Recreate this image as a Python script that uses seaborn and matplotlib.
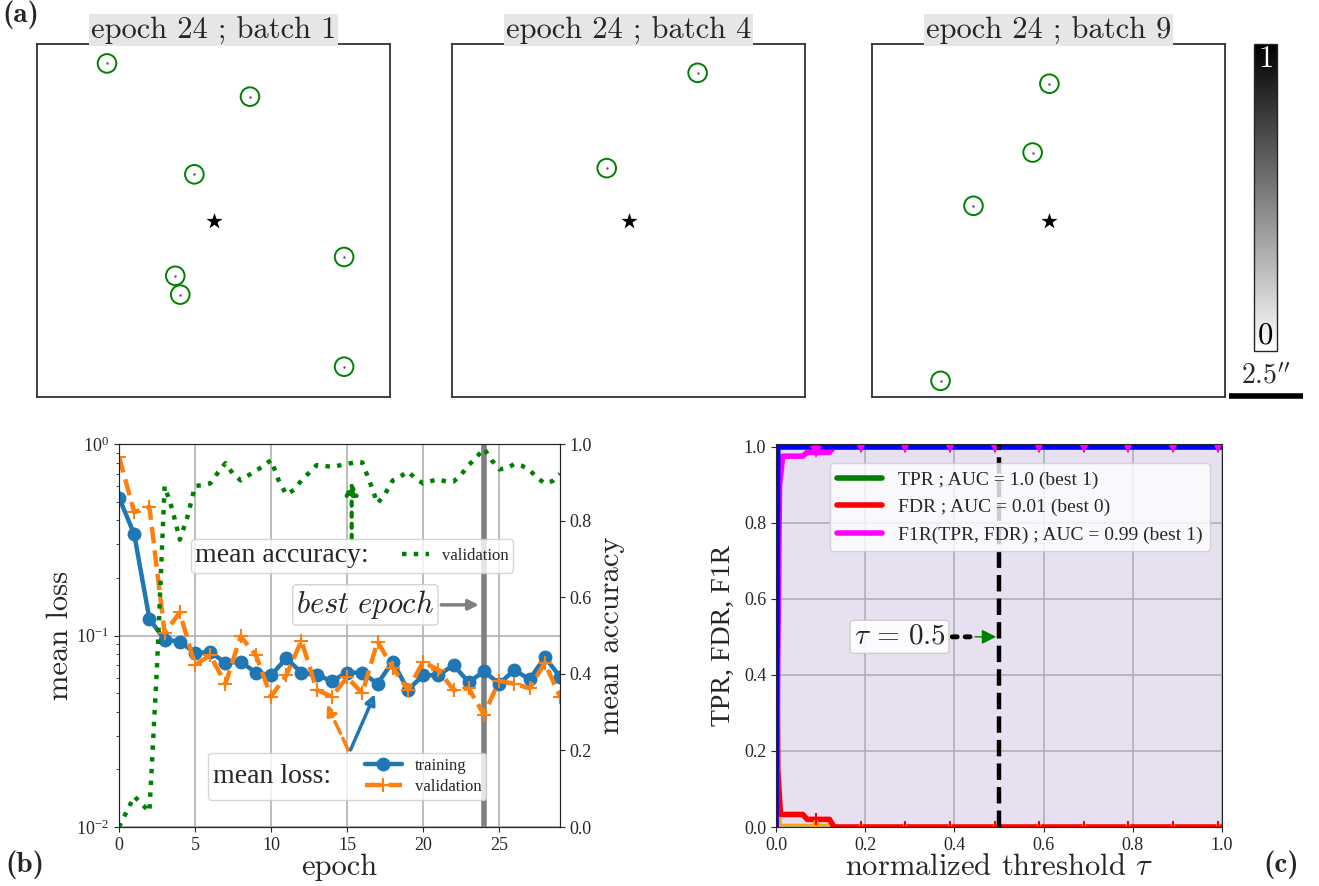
import numpy as np
import matplotlib
matplotlib.use("Agg")
import matplotlib.pyplot as plt
import seaborn as sns
from matplotlib.ticker import FormatStrFormatter

# (a) source positions (arcsec) around the lens centre, epoch 24
best_epoch = 24
batches = [1, 4, 9]
b1_x = [-3.62, 1.24, -0.65, 4.44, -1.30, -1.13, 4.44]
b1_y = [5.34, 4.21, 1.57, -1.24, -1.88, -2.52, -4.97]
b4_x = [2.35, -0.74]
b4_y = [5.02, 1.78]
b9_x = [0.03, -0.54, -2.55, -3.67]
b9_y = [4.65, 2.31, 0.50, -5.45]
half_width = 6.0      # arcsec
scale_len = 2.5       # arcsec

# (b) training history
epochs = list(range(30))
train_loss = [0.525, 0.338, 0.122, 0.095, 0.093, 0.081, 0.082, 0.072, 0.073, 0.064,
              0.062, 0.076, 0.064, 0.062, 0.058, 0.064, 0.064, 0.056, 0.073, 0.052,
              0.062, 0.062, 0.070, 0.057, 0.065, 0.056, 0.066, 0.059, 0.077, 0.061]
val_loss = [0.86, 0.44, 0.47, 0.103, 0.132, 0.070, 0.079, 0.056, 0.099, 0.079,
            0.048, 0.062, 0.094, 0.052, 0.048, 0.0605, 0.050, 0.093, 0.068, 0.052,
            0.073, 0.066, 0.052, 0.053, 0.0386, 0.058, 0.056, 0.053, 0.072, 0.048]
acc_epoch = [0, 0.5, 1, 1.5, 2, 2.5, 3, 3.5, 4, 4.5, 5, 5.5, 6, 6.5, 7, 7.5, 8, 8.5, 9, 9.5,
             10, 10.5, 11, 11.5, 12, 12.5, 13, 13.5, 14, 14.5, 15, 15.5, 16, 16.5, 17, 17.5,
             18, 18.5, 19, 19.5, 20, 20.5, 21, 21.5, 22, 22.5, 23, 23.5, 24, 24.5, 25, 25.5,
             26, 26.5, 27, 27.5, 28, 28.5, 29]
val_acc = [0.00, 0.04, 0.08, 0.06, 0.04, 0.42, 0.89, 0.83, 0.75, 0.81, 0.89, 0.893, 0.897,
           0.925, 0.95, 0.922, 0.905, 0.918, 0.93, 0.943, 0.958, 0.905, 0.868, 0.88, 0.905,
           0.925, 0.945, 0.943, 0.94, 0.944, 0.948, 0.952, 0.952, 0.90, 0.845, 0.87, 0.905,
           0.915, 0.928, 0.91, 0.897, 0.903, 0.908, 0.902, 0.902, 0.92, 0.945, 0.965, 0.988,
           0.958, 0.934, 0.936, 0.948, 0.943, 0.932, 0.912, 0.897, 0.903, 0.922]

# (c) rates vs normalized threshold
tpr_tau = [0.0, 1.0]
tpr = [1.0, 1.0]
fdr_tau = [0.0, 0.004, 0.01, 0.06, 0.07, 0.12, 0.13, 1.0]
fdr = [1.0, 0.15, 0.033, 0.033, 0.02, 0.02, 0.0, 0.0]
f1r_tau = [0.0, 0.008, 0.015, 0.06, 0.07, 0.12, 0.13, 1.0]
f1r = [0.0, 0.90, 0.975, 0.975, 0.985, 0.985, 1.0, 1.0]
top_tau = [0.0, 0.004, 1.0]
top_val = [0.0, 1.0, 1.0]
low_tau = [0.0, 0.004, 0.012, 0.12, 0.125, 1.0]
low_val = [0.15, 0.12, 0.01, 0.01, 0.0, 0.0]
mark_tau = [0.09, 0.19, 0.29, 0.39, 0.49, 0.59, 0.69, 0.79, 0.89, 0.99]
tpr_mark = [1.0, 1.0, 1.0, 1.0, 1.0, 1.0, 1.0, 1.0, 1.0, 1.0]
f1r_mark = [0.985, 1.0, 1.0, 1.0, 1.0, 1.0, 1.0, 1.0, 1.0, 1.0]
fdr_mark = [0.02, 0.0, 0.0, 0.0, 0.0, 0.0, 0.0, 0.0, 0.0, 0.0]
low_mark = [0.01, 0.0, 0.0, 0.0, 0.0, 0.0, 0.0, 0.0, 0.0, 0.0]
auc_tpr, auc_fdr, auc_f1r = 1.0, 0.01, 0.99
tau_sel = 0.5

sns.set_style("ticks")
plt.rcParams['font.family'] = ['Liberation Serif', 'DejaVu Serif']
plt.rcParams['mathtext.fontset'] = 'cm'
CM = 'cmr10'

fig = plt.figure(figsize=(13.19, 8.86), dpi=100)
W, H = 1319.0, 886.0


def px_axes(x0, y0, x1, y1):
    return fig.add_axes([x0 / W, 1 - y1 / H, (x1 - x0) / W, (y1 - y0) / H])


# ---------- (a) ----------
for left, b, xs, ys in zip([37, 452, 872], batches, [b1_x, b4_x, b9_x], [b1_y, b4_y, b9_y]):
    ax = px_axes(left, 44, left + 353, 397)
    sns.scatterplot(x=xs, y=ys, ax=ax, marker='o', s=180, fc='none', ec='green', lw=1.4)
    sns.scatterplot(x=xs, y=ys, ax=ax, s=3, color='#555555', lw=0)
    sns.scatterplot(x=[0.0], y=[0.0], ax=ax, marker='*', s=150, color='k', lw=0)
    ax.set_xlim(-half_width, half_width)
    ax.set_ylim(-half_width, half_width)
    ax.set_xticks([])
    ax.set_yticks([])
    for sp in ax.spines.values():
        sp.set_color('#333333')
        sp.set_linewidth(1.3)
    ax.set_title("epoch %d ; batch %d" % (best_epoch, b), fontsize=22, pad=4, fontfamily=CM,
                 bbox=dict(fc='#e6e6e6', ec='none', pad=1.0))
    last_ax = ax

# scale bar under the colorbar, in arcsec of the last panel
last_ax.plot([6.14, 6.14 + scale_len], [-5.95, -5.95], color='k', lw=4, clip_on=False,
             solid_capstyle='butt')
last_ax.text(6.14 + scale_len / 2, -5.75, r"$2.5''$", ha='center', va='bottom', fontsize=20)

cax = px_axes(1254, 44, 1277, 351)
sm = plt.cm.ScalarMappable(cmap='gray_r', norm=plt.Normalize(0, 1))
cb = fig.colorbar(sm, cax=cax, ticks=[])
cb.outline.set_linewidth(1.0)
cax.text(0.5, 0.995, "1", color='white', ha='center', va='top', fontsize=22, fontfamily=CM,
         transform=cax.transAxes)
cax.text(0.5, 0.005, "0", color='k', ha='center', va='bottom', fontsize=22, fontfamily=CM,
         transform=cax.transAxes)

# ---------- (b) ----------
ax_b = px_axes(119, 444, 560, 827)
ax_b.set_yscale('log')
ax_b.grid(True, which='major', color='#b0b0b0', lw=1.2)
ax_b.axvline(best_epoch, color='gray', lw=4, zorder=1.8)
sns.lineplot(x=epochs, y=train_loss, ax=ax_b, color='C0', lw=3.2, marker='o', markersize=10,
             mec='C0', mew=0)
sns.lineplot(x=epochs, y=val_loss, ax=ax_b, color='C1', lw=3.2, ls='--', marker='+',
             markersize=10, mec='C1', mew=1.5)
ax_b.set_xlim(0, 29)
ax_b.set_ylim(1e-2, 1)
ax_b.set_xticks([0, 5, 10, 15, 20, 25])
ax_b.tick_params(labelsize=13)
ax_b.set_xlabel("epoch", fontsize=22, labelpad=0, fontfamily=CM)
ax_b.set_ylabel("mean loss", fontsize=22, labelpad=2, fontfamily=CM)

ax_acc = ax_b.twinx()
sns.lineplot(x=acc_epoch, y=val_acc, ax=ax_acc, color='green', lw=3.2, ls=':')
ax_acc.set_ylim(0, 1)
ax_acc.set_yticks([0, 0.2, 0.4, 0.6, 0.8, 1.0])
ax_acc.yaxis.set_major_formatter(FormatStrFormatter('%.1f'))
ax_acc.tick_params(labelsize=13)
ax_acc.set_ylabel("mean accuracy", fontsize=22, labelpad=4, fontfamily=CM)


def title_on_left(leg):
    # put the legend title beside the entries instead of above them
    vbox = leg.get_children()[0]
    title_box, entries = vbox.get_children()
    vbox._children = [entries]
    entries._children = [title_box] + entries.get_children()
    entries.align = "center"


leg_acc = ax_acc.legend(handles=[ax_acc.lines[0]], labels=['validation'], title='mean accuracy:',
                        loc='center', bbox_to_anchor=(0.529, 0.708), fontsize=12,
                        title_fontsize=20, handlelength=1.6, borderpad=0.25)
title_on_left(leg_acc)
ax_acc.add_artist(leg_acc)
leg_loss = ax_acc.legend(handles=[ax_b.lines[1], ax_b.lines[2]], labels=['training', 'validation'],
                         title='mean loss:', loc='center', bbox_to_anchor=(0.518, 0.133),
                         fontsize=12, title_fontsize=20, handlelength=2.2, borderpad=0.3,
                         labelspacing=0.3)
title_on_left(leg_loss)

ax_acc.annotate('', xy=(15.3, 0.91), xytext=(15.3, 0.745),
                arrowprops=dict(arrowstyle='-|>', color='green', ls=':', lw=3, mutation_scale=18))
ax_acc.annotate(r"$best\ epoch$", xy=(23.85, 0.58), xytext=(16.2, 0.58), ha='center', va='center',
                fontsize=22,
                bbox=dict(boxstyle='round,pad=0.12', fc='white', ec='#cccccc', alpha=0.85),
                arrowprops=dict(arrowstyle='-|>', color='gray', lw=2.5, mutation_scale=15))
ax_b.annotate('', xy=(13.6, 0.045), xytext=(15.15, 0.0245),
              arrowprops=dict(arrowstyle='-|>', color='C1', ls='--', lw=2.5, mutation_scale=15))
ax_b.annotate('', xy=(16.9, 0.051), xytext=(15.15, 0.0245),
              arrowprops=dict(arrowstyle='-|>', ec='C0', fc='gray', lw=2.5, mutation_scale=15))

# ---------- (c) ----------
ax_c = px_axes(776, 444, 1222, 827)
ax_c.fill_between(top_tau, 0, top_val, color='#e6e0f1', lw=0, zorder=0.2)
ax_c.fill_between(low_tau, 0, low_val, color='orange', lw=0, zorder=0.3)
ax_c.grid(True, color='#b0b0b0', lw=1.2)
sns.lineplot(x=tpr_tau, y=tpr, ax=ax_c, color='green', lw=4, label='TPR ; AUC = %.1f (best 1)' % auc_tpr)
sns.lineplot(x=fdr_tau, y=fdr, ax=ax_c, color='red', lw=4, label='FDR ; AUC = %.2f (best 0)' % auc_fdr)
sns.lineplot(x=f1r_tau, y=f1r, ax=ax_c, color='magenta', lw=4,
             label='F1R(TPR, FDR) ; AUC = %.2f (best 1)' % auc_f1r)
sns.lineplot(x=top_tau, y=top_val, ax=ax_c, color='blue', lw=4)
sns.lineplot(x=mark_tau, y=tpr_mark, ax=ax_c, color='green', lw=0, marker='v', markersize=8, mew=0)
sns.lineplot(x=mark_tau, y=f1r_mark, ax=ax_c, color='magenta', lw=0, marker='v', markersize=8, mew=0)
sns.lineplot(x=mark_tau, y=low_mark, ax=ax_c, color='orange', lw=0, marker='^', markersize=8, mew=0)
sns.lineplot(x=mark_tau, y=fdr_mark, ax=ax_c, color='red', lw=0, marker='+', markersize=9,
             mec='red', mew=1.5)
ax_c.axvline(tau_sel, color='k', ls='--', lw=3.2)
ax_c.set_xlim(0, 1)
ax_c.set_ylim(0, 1.007)
ax_c.set_xticks([0, 0.2, 0.4, 0.6, 0.8, 1.0])
ax_c.set_yticks([0, 0.2, 0.4, 0.6, 0.8, 1.0])
ax_c.xaxis.set_major_formatter(FormatStrFormatter('%.1f'))
ax_c.yaxis.set_major_formatter(FormatStrFormatter('%.1f'))
ax_c.tick_params(labelsize=13)
ax_c.set_xlabel(r"normalized threshold $\tau$", fontsize=22, labelpad=0, fontfamily=CM)
ax_c.set_ylabel("TPR, FDR, F1R", fontsize=20, labelpad=6)
ax_c.legend(loc='upper right', fontsize=14, handlelength=2.3, bbox_to_anchor=(0.995, 0.975))

ax_c.annotate(r"$\tau\, =\, 0.5$", xy=(0.445, 0.5), xytext=(0.277, 0.5), ha='center', va='center',
              fontsize=21,
              bbox=dict(boxstyle='round,pad=0.12', fc='white', ec='#cccccc', alpha=0.9),
              arrowprops=dict(arrowstyle='-', ls=':', color='k', lw=3.5))
ax_c.annotate('', xy=(0.5, 0.5), xytext=(0.44, 0.5),
              arrowprops=dict(arrowstyle='-|>', color='green', lw=1, mutation_scale=22))

# panel letters
fig.text(0.002, 0.999, "(a)", fontsize=21, va='top', ha='left', fontfamily='cmb10')
fig.text(0.004, 0.008, "(b)", fontsize=21, va='bottom', ha='left', fontfamily='cmb10')
fig.text(0.958, 0.008, "(c)", fontsize=21, va='bottom', ha='left', fontfamily='cmb10')

fig.savefig("out.png", dpi=100)
